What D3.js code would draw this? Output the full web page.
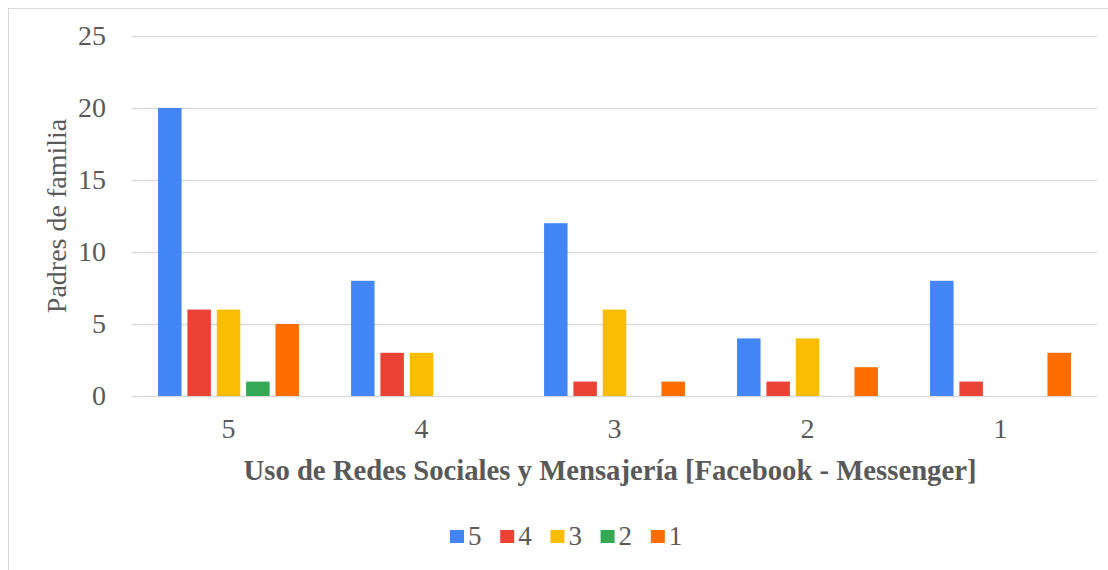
<!DOCTYPE html>
<html>
<head>
<meta charset="utf-8">
<script src="https://cdn.jsdelivr.net/npm/d3@7"></script>
<style>
  body { margin: 0; background: #fff; }
  svg text { font-family: "Liberation Serif", "Times New Roman", serif; fill: #595959; }
</style>
</head>
<body>
<div id="chart"></div>
<script>
// chart data
const groups = ['5', '4', '3', '2', '1'];
const series = ['5', '4', '3', '2', '1'];
const colors = ['#4285F4', '#EA4335', '#FBBC04', '#34A853', '#FF6D01'];
const values = [
    [20, 6, 6, 1, 5],
    [8, 3, 3, 0, 0],
    [12, 1, 6, 0, 1],
    [4, 1, 4, 0, 2],
    [8, 1, 0, 0, 3]
];
const yTicks = [0, 5, 10, 15, 20, 25];
const yTitle = 'Padres de familia';
const xTitle = 'Uso de Redes Sociales y Mensajería [Facebook - Messenger]';

const width = 1108;
const height = 570;
const marginTop = 36;
const marginRight = 11;
const marginBottom = 174;
const marginLeft = 132;
const font = '"Liberation Serif", "Times New Roman", serif';

const svg = d3.select('#chart').append('svg')
    .attr('width', width)
    .attr('height', height);

// outer frame (only left/top visible in the crop)
svg.append('rect')
    .attr('x', 8.5).attr('y', 8.5)
    .attr('width', width + 10).attr('height', height + 10)
    .attr('fill', 'none')
    .attr('stroke', '#d9d9d9');

const x0 = d3.scaleBand()
    .domain(groups)
    .range([marginLeft, width - marginRight])
    .paddingInner(0.27)
    .paddingOuter(0.135);

const x1 = d3.scaleBand()
    .domain(series)
    .range([0, x0.bandwidth()])
    .paddingInner(0.2)
    .paddingOuter(0);

const y = d3.scaleLinear()
    .domain([0, 25])
    .range([height - marginBottom, marginTop]);

// gridlines + y labels
const yAxis = svg.append('g')
    .attr('transform', `translate(${marginLeft},0)`)
    .call(d3.axisLeft(y).tickValues(yTicks).tickSize(-(width - marginLeft - marginRight)).tickPadding(26))
    .attr('font-family', font);
yAxis.select('.domain').remove();
yAxis.selectAll('.tick line').attr('stroke', '#d9d9d9').attr('stroke-width', 1.3);
yAxis.selectAll('.tick text').attr('font-size', 28).style('fill', '#595959');

// bars
const grp = svg.append('g').selectAll('g')
    .data(values)
    .join('g')
    .attr('transform', (d, i) => `translate(${x0(groups[i])},0)`);

grp.selectAll('rect')
    .data(d => d.map((v, j) => ({ key: series[j], value: v, color: colors[j] })))
    .join('rect')
    .attr('x', d => x1(d.key))
    .attr('y', d => y(d.value))
    .attr('width', x1.bandwidth())
    .attr('height', d => y(0) - y(d.value))
    .attr('fill', d => d.color);

// x labels
const xAxis = svg.append('g')
    .attr('transform', `translate(0,${height - marginBottom})`)
    .call(d3.axisBottom(x0).tickSize(0).tickPadding(22))
    .attr('font-family', font);
xAxis.select('.domain').remove();
xAxis.selectAll('.tick text').attr('font-size', 28).style('fill', '#595959');

// axis titles
svg.append('text')
    .attr('x', 610)
    .attr('y', 480)
    .attr('text-anchor', 'middle')
    .attr('font-size', 28.7)
    .attr('font-weight', 'bold')
    .attr('font-family', font)
    .text(xTitle);

svg.append('text')
    .attr('transform', `translate(66,${(marginTop + height - marginBottom) / 2}) rotate(-90)`)
    .attr('text-anchor', 'middle')
    .attr('font-size', 28)
    .attr('font-family', font)
    .text(yTitle);

// legend
const legend = svg.append('g')
    .attr('transform', 'translate(450,530)')
    .attr('font-family', font);

const item = legend.selectAll('g')
    .data(series)
    .join('g')
    .attr('transform', (d, i) => `translate(${i * 50.2},0)`);

item.append('rect')
    .attr('width', 14).attr('height', 13)
    .attr('fill', (d, i) => colors[i]);

item.append('text')
    .attr('x', 18)
    .attr('y', 15)
    .attr('font-size', 27)
    .text(d => d);
</script>
</body>
</html>
